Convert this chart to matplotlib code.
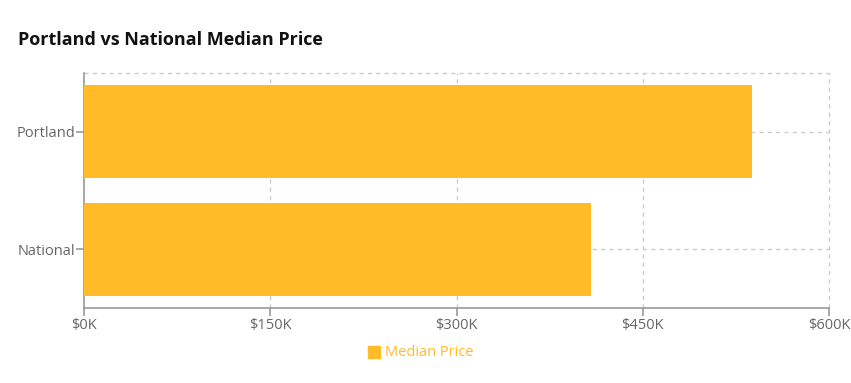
import matplotlib
matplotlib.use("Agg")
import matplotlib.pyplot as plt
from matplotlib.patches import Rectangle

categories = ["Portland", "National"]
median_price_k = [538, 408]
x_ticks = [0, 150, 300, 450, 600]
x_tick_labels = ["$0K", "$150K", "$300K", "$450K", "$600K"]

BAR = "#FFBB28"
W, H = 851, 383
fig = plt.figure(figsize=(W / 100, H / 100), dpi=100)
ax = fig.add_axes([84 / W, (H - 308) / H, (829 - 84) / W, (308 - 73) / H])

ypos = list(range(len(categories)))
ax.barh(ypos, median_price_k, height=0.79, color=BAR, zorder=3)
ax.set_ylim(len(categories) - 0.5, -0.5)
ax.set_xlim(0, 600)
ax.set_xticks(x_ticks)
ax.set_xticklabels(x_tick_labels)
ax.set_yticks(ypos)
ax.set_yticklabels(categories)

for s in ["top", "right"]:
    ax.spines[s].set_visible(False)
for s in ["left", "bottom"]:
    ax.spines[s].set_color("#999999")
    ax.spines[s].set_linewidth(1.2)
ax.tick_params(axis="both", colors="#999999", length=6, width=1.2, labelsize=10.5,
               labelcolor="#666666")
ax.tick_params(axis="y", pad=0.5)
ax.tick_params(axis="x", pad=1.5)

grid_kw = dict(color="#cccccc", linestyle=(0, (3, 3)), linewidth=1, zorder=0, clip_on=False)
for xv in x_ticks[1:]:
    ax.axvline(xv, **grid_kw)
for yv in ypos:
    ax.axhline(yv, **grid_kw)
ax.axhline(-0.5, **grid_kw)

for lbl in ax.get_xticklabels() + ax.get_yticklabels():
    lbl.set_family(["Open Sans", "DejaVu Sans"])

fig.text(18 / W, 1 - 40 / H, "Portland vs National Median Price", fontsize=13,
         fontweight="bold", family=["Open Sans", "DejaVu Sans"], va="center", ha="left",
         color="#111111")

# legend
fig.patches.append(Rectangle((368 / W, 1 - 358 / H), 12 / W, 12 / H, color=BAR,
                             transform=fig.transFigure))
fig.text(385 / W, 1 - 352 / H, "Median Price", fontsize=10.5, color=BAR,
         family=["Open Sans", "DejaVu Sans"], va="center", ha="left")

fig.savefig("out.png", dpi=100)
